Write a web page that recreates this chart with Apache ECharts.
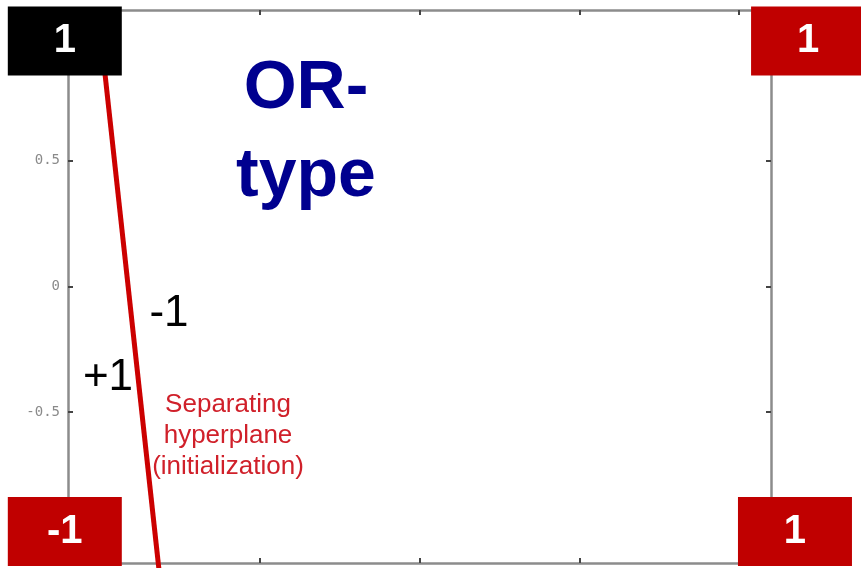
<!DOCTYPE html>
<html><head><meta charset="utf-8">
<script src="https://cdn.jsdelivr.net/npm/echarts@6/dist/echarts.min.js"></script>
<style>html,body{margin:0;padding:0;background:#fff}#c{width:861px;height:568px}</style>
</head><body><div id="c"></div>
<script>
// axis extents and ticks
const xRange = [-1.1, 1.1];
const yRange = [-1.1, 1.1];
const tickValues = [-1, -0.5, 0, 0.5, 1];
// separating hyperplane (initialization) endpoints
const lineX = [-1.006, -0.815];
const lineY = [1.1, -1.13];
// corner boxes: position and class label
const boxX = [-1.11, 1.216, -1.11, 1.175];
const boxY = [0.977, 0.977, -0.975, -0.975];
const boxLabel = ['1', '1', '-1', '1'];
const boxColor = ['#000000', '#c00000', '#c00000', '#c00000'];

const chart = echarts.init(document.getElementById('c'), null, {renderer: 'canvas'});
const axisLine = {show: true, onZero: false, lineStyle: {color: '#8c8c8c', width: 2.5}};
const tick = {show: true, inside: true, length: 5, lineStyle: {color: '#444', width: 2}, customValues: tickValues};
function xAx(pos) {
  return {type: 'value', position: pos, min: xRange[0], max: xRange[1],
    axisLine, axisTick: tick, axisLabel: {show: false}, splitLine: {show: false}};
}
function yAx(pos, lab) {
  return {type: 'value', position: pos, min: yRange[0], max: yRange[1],
    axisLine, axisTick: tick,
    axisLabel: {show: lab, customValues: tickValues, margin: 8, color: '#8a8a8a',
      fontFamily: 'DejaVu Sans Mono', fontSize: 14,
      formatter: v => String(Math.round(v * 10) / 10)},
    splitLine: {show: false}};
}
chart.setOption({
  animation: false,
  backgroundColor: '#fff',
  grid: {left: 68, right: 90, top: 10, bottom: 5},
  xAxis: [xAx('bottom'), xAx('top')],
  yAxis: [yAx('left', true), yAx('right', false)],
  series: [
    {type: 'line', xAxisIndex: 0, yAxisIndex: 0, data: lineX.map((x, i) => [x, lineY[i]]),
      showSymbol: false, clip: false, z: 2,
      lineStyle: {color: '#cc0000', width: 5}},
    {type: 'scatter', xAxisIndex: 0, yAxisIndex: 0, clip: false, z: 5,
      symbol: 'rect', symbolSize: [114, 69],
      data: boxX.map((x, i) => ({value: [x, boxY[i]], name: boxLabel[i], itemStyle: {color: boxColor[i], opacity: 1}})),
      label: {show: true, position: 'inside', formatter: p => p.name, color: '#fff',
        fontFamily: 'Liberation Sans', fontWeight: 'bold', fontSize: 40}}
  ],
  graphic: [
    {type: 'text', z: 10, style: {text: 'OR-\ntype', x: 306, y: 45, textAlign: 'center', textVerticalAlign: 'top',
      font: 'bold 68px "Liberation Sans"', lineHeight: 88, fill: '#00008f'}},
    {type: 'text', z: 10, style: {text: '-1', x: 169, y: 292, textAlign: 'center', textVerticalAlign: 'top',
      font: '44px "Liberation Sans"', fill: '#000'}},
    {type: 'text', z: 10, style: {text: '+1', x: 108, y: 356, textAlign: 'center', textVerticalAlign: 'top',
      font: '44px "Liberation Sans"', fill: '#000'}},
    {type: 'text', z: 10, style: {text: 'Separating\nhyperplane\n(initialization)', x: 228, y: 389, textAlign: 'center', textVerticalAlign: 'top',
      font: '26px "Liberation Sans"', lineHeight: 31, fill: '#d0202a'}}
  ]
});
</script></body></html>
